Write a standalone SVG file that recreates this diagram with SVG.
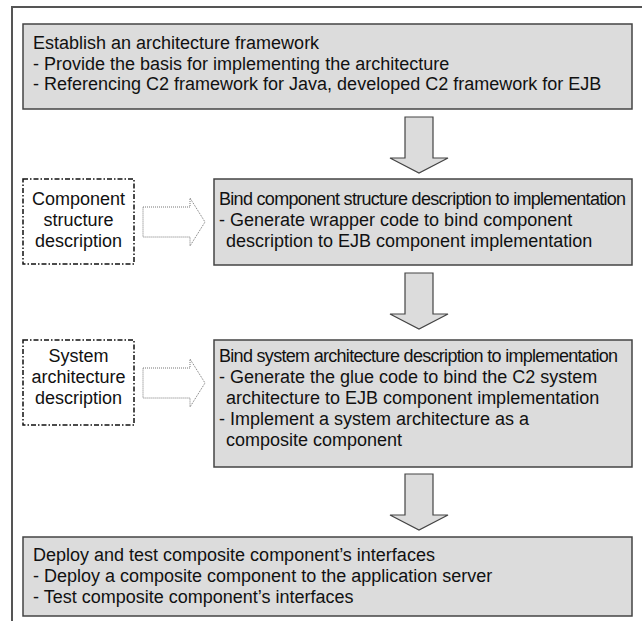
<svg xmlns="http://www.w3.org/2000/svg" width="642" height="621" viewBox="0 0 642 621">
  <style>
    .frame { fill: none; stroke: #555; stroke-width: 2; }
    .step { fill: #dcdcdc; stroke: #444; stroke-width: 1.5; }
    .input { fill: #fff; stroke: #111; stroke-width: 1.5; stroke-dasharray: 5 2 1.5 2; }
    .flow { fill: #dcdcdc; stroke: #444; stroke-width: 1.2; }
    .feed { fill: #fff; stroke: #777; stroke-width: 1; stroke-dasharray: 1 1; }
    text { font-family: "Liberation Sans", Arial, sans-serif; font-size: 18px; fill: #111; }
    .mid { text-anchor: middle; }
    .tight { letter-spacing: -0.7px; }
  </style>

  <!-- outer frame -->
  <rect class="frame" x="12" y="7" width="640" height="620"/>

  <g id="establish-framework">
    <rect class="step" x="23" y="24" width="609" height="85"/>
    <text x="33" y="49">Establish an architecture framework</text>
    <text x="33" y="69.5">- Provide the basis for implementing the architecture</text>
    <text x="33" y="90">- Referencing C2 framework for Java, developed C2 framework for EJB</text>
  </g>

  <g id="component-structure-description">
    <rect class="input" x="23" y="179" width="111" height="85"/>
    <text class="mid" x="78.5" y="205">Component</text>
    <text class="mid" x="78.5" y="226">structure</text>
    <text class="mid" x="78.5" y="247">description</text>
  </g>

  <g id="bind-component">
    <rect class="step" x="214" y="179" width="418" height="86"/>
    <text class="tight" x="219" y="205">Bind component structure description to implementation</text>
    <text x="219" y="226">- Generate wrapper code to bind component</text>
    <text x="226" y="247">description to EJB component implementation</text>
  </g>

  <g id="system-architecture-description">
    <rect class="input" x="23" y="340" width="111" height="85"/>
    <text class="mid" x="78.5" y="362">System</text>
    <text class="mid" x="78.5" y="383">architecture</text>
    <text class="mid" x="78.5" y="404">description</text>
  </g>

  <g id="bind-system">
    <rect class="step" x="214" y="340" width="418" height="127"/>
    <text class="tight" x="219" y="362">Bind system architecture description to implementation</text>
    <text x="219" y="383">- Generate the glue code to bind the C2 system</text>
    <text x="226" y="404">architecture to EJB component implementation</text>
    <text x="219" y="425">- Implement a system architecture as a</text>
    <text x="226" y="446">composite component</text>
  </g>

  <g id="deploy-test">
    <rect class="step" x="23" y="537" width="609" height="79"/>
    <text x="33" y="561">Deploy and test composite component’s interfaces</text>
    <text x="33" y="582">- Deploy a composite component to the application server</text>
    <text x="33" y="603">- Test composite component’s interfaces</text>
  </g>

  <g id="connectors">
    <!-- block arrows between steps -->
    <path class="flow" d="M405,117 H433 V158 H448 L419,173 L390,158 H405 Z"/>
    <path class="flow" d="M405,273 H433 V314 H448 L419,329 L390,314 H405 Z"/>
    <path class="flow" d="M405,474 H433 V515 H448 L419,530 L390,515 H405 Z"/>
    <!-- dotted arrows from the descriptions -->
    <path class="feed" d="M143,207 H190 V198 L205,222 L190,246 V237 H143 Z"/>
    <path class="feed" d="M143,368 H190 V359 L205,383 L190,407 V398 H143 Z"/>
  </g>
</svg>
